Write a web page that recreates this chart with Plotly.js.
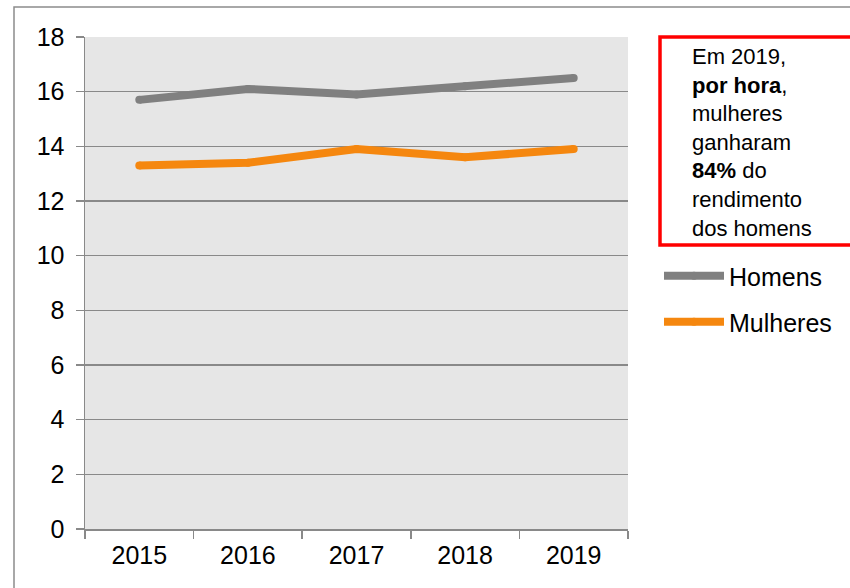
<!DOCTYPE html>
<html>
<head>
<meta charset="utf-8">
<script src="https://cdn.plot.ly/plotly-3.0.1.min.js"></script>
<style>html,body{margin:0;padding:0;background:#fff;}#chart{width:850px;height:588px;}</style>
</head>
<body>
<div id="chart"></div>
<script>
const years = ['2015', '2016', '2017', '2018', '2019'];
const homens = [15.7, 16.1, 15.9, 16.2, 16.5];
const mulheres = [13.3, 13.4, 13.9, 13.6, 13.9];
const yTicks = [0, 2, 4, 6, 8, 10, 12, 14, 16, 18];
const seriesNames = ['Homens', 'Mulheres'];
const noteText = 'Em 2019,<br><b>por hora</b>,<br>mulheres<br>ganharam<br><b>84%</b> do<br>rendimento<br>dos homens';

const W = 850, H = 588;
const M = {l: 85, r: 222, t: 37, b: 59};
const pw = W - M.l - M.r, ph = H - M.t - M.b;
const px = x => (x - M.l) / pw;
const py = y => (H - M.b - y) / ph;

const font = 'Liberation Sans, Arial, sans-serif';

const traces = [
  {x: years, y: homens, name: seriesNames[0], type: 'scatter', mode: 'lines+markers',
   line: {color: '#808080', width: 8}, marker: {color: '#808080', size: 8},
   legend: 'legend'},
  {x: years, y: mulheres, name: seriesNames[1], type: 'scatter', mode: 'lines+markers',
   line: {color: '#f5870f', width: 8}, marker: {color: '#f5870f', size: 8},
   legend: 'legend2'}
];

const layout = {
  width: W, height: H,
  margin: M,
  paper_bgcolor: '#ffffff',
  plot_bgcolor: '#e6e6e6',
  font: {family: font, color: '#000', size: 25},
  showlegend: true,
  xaxis: {
    type: 'category', tickson: 'boundaries', range: [-0.5, 4.5],
    showgrid: false, showline: true, linecolor: '#898989', linewidth: 1.5,
    ticks: 'outside', ticklen: 8, tickcolor: '#898989', tickwidth: 1.5,
    tickfont: {size: 25, family: font, color: '#000'}, zeroline: false,
    ticklabelstandoff: 3, fixedrange: true
  },
  yaxis: {
    range: [0, 18], tickvals: yTicks, showgrid: true, gridcolor: '#898989', gridwidth: 1.5,
    showline: true, linecolor: '#898989', linewidth: 1.5,
    ticks: 'outside', ticklen: 8, tickcolor: '#898989', tickwidth: 1.5,
    tickfont: {size: 25, family: font, color: '#000'}, zeroline: false,
    ticklabelstandoff: 6, fixedrange: true
  },
  legend: {
    x: px(659), y: py(253), xanchor: 'left', yanchor: 'top',
    bgcolor: 'rgba(0,0,0,0)', font: {size: 25, family: font, color: '#000'},
    itemwidth: 60, tracegroupgap: 0
  },
  legend2: {
    x: px(659), y: py(299), xanchor: 'left', yanchor: 'top',
    bgcolor: 'rgba(0,0,0,0)', font: {size: 25, family: font, color: '#000'},
    itemwidth: 60, tracegroupgap: 0
  },
  shapes: [
    {type: 'rect', xref: 'paper', yref: 'paper', x0: px(14), x1: px(870), y0: py(600), y1: py(7),
     line: {color: '#8c8c8c', width: 1.5}, fillcolor: 'rgba(0,0,0,0)', layer: 'below'},
    {type: 'rect', xref: 'paper', yref: 'paper', x0: px(660), x1: px(870), y0: py(245), y1: py(37),
     line: {color: '#ff0000', width: 3.5}, fillcolor: 'rgba(0,0,0,0)'}
  ],
  annotations: [
    {xref: 'paper', yref: 'paper', x: px(690), y: py(42), xanchor: 'left', yanchor: 'top',
     align: 'left', showarrow: false, text: noteText,
     font: {size: 22, family: font, color: '#000'}}
  ]
};

Plotly.newPlot('chart', traces, layout, {displayModeBar: false, staticPlot: true});
</script>
</body>
</html>
